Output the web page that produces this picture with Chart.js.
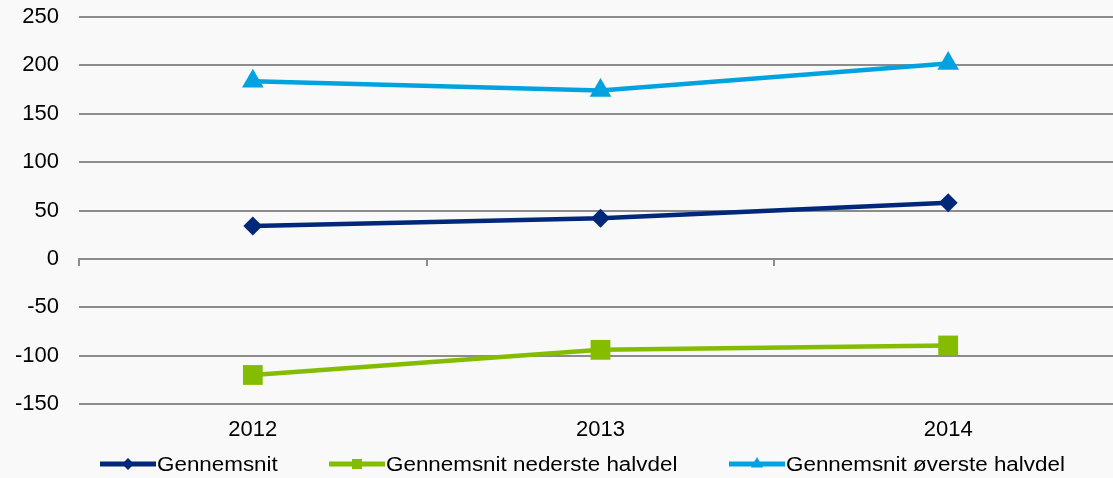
<!DOCTYPE html>
<html><head><meta charset="utf-8">
<script src="https://cdn.jsdelivr.net/npm/chart.js@4.4.1/dist/chart.umd.min.js"></script>
<style>
html,body{margin:0;padding:0;background:#f9f9f9;overflow:hidden;}
#wrap{width:1113px;height:478px;overflow:hidden;position:relative;}
canvas{display:block;}
</style></head>
<body><div id="wrap"><canvas id="c" width="1125" height="478" style="width:1125px;height:478px;"></canvas></div>
<script>
const categories = ['2012', '2013', '2014'];
const seriesNames = ['Gennemsnit', 'Gennemsnit nederste halvdel', 'Gennemsnit øverste halvdel'];
const gennemsnit = [34, 42, 58];
const nederste = [-120, -94, -89.5];
const oeverste = [183.5, 174, 202];
const yMin = -150, yMax = 250, yStep = 50;

const colors = ['#00287a', '#84bd00', '#00a3e0'];
const FONT = '"Liberation Sans", Arial, sans-serif';
const GRID = '#8c8c8c';

const legendMarkers = [
  {style: 'diamond', r: 6},
  {style: 'square', r: 5},
  {style: 'triangle', r: 7}
];

function drawMarker(ctx, style, x, y, r) {
  ctx.beginPath();
  if (style === 'diamond') {
    ctx.moveTo(x - r, y); ctx.lineTo(x, y - r); ctx.lineTo(x + r, y); ctx.lineTo(x, y + r);
  } else if (style === 'square') {
    ctx.rect(x - r, y - r, 2 * r, 2 * r);
  } else {
    ctx.moveTo(x, y - r); ctx.lineTo(x + r * 0.866, y + r * 0.5); ctx.lineTo(x - r * 0.866, y + r * 0.5);
  }
  ctx.closePath();
  ctx.fill();
}

const legendPlugin = {
  id: 'customLegend',
  afterDraw(chart) {
    const ctx = chart.ctx;
    const starts = [100, 329, 729];
    const y = 464;
    chart.data.datasets.forEach((ds, i) => {
      const x0 = starts[i];
      ctx.save();
      ctx.strokeStyle = ds.borderColor;
      ctx.fillStyle = ds.borderColor;
      ctx.lineWidth = 5;
      ctx.beginPath(); ctx.moveTo(x0, y); ctx.lineTo(x0 + 56, y); ctx.stroke();
      drawMarker(ctx, legendMarkers[i].style, x0 + 28, y, legendMarkers[i].r);
      ctx.fillStyle = '#000';
      ctx.font = '20px ' + FONT;
      ctx.textBaseline = 'middle';
      ctx.textAlign = 'left';
      ctx.translate(x0 + 57, y + 1);
      ctx.scale(1.12, 1);
      ctx.fillText(ds.label, 0, 0);
      ctx.restore();
    });
  }
};

new Chart(document.getElementById('c'), {
  type: 'line',
  data: {
    labels: categories,
    datasets: [
      {label: seriesNames[0], data: gennemsnit, borderColor: colors[0], backgroundColor: colors[0],
       pointStyle: 'rectRot', pointRadius: 9.5, pointBorderWidth: 0, borderWidth: 4.5, tension: 0},
      {label: seriesNames[1], data: nederste, borderColor: colors[1], backgroundColor: colors[1],
       pointStyle: 'rect', pointRadius: 14, pointBorderWidth: 0, borderWidth: 4.5, tension: 0},
      {label: seriesNames[2], data: oeverste, borderColor: colors[2], backgroundColor: colors[2],
       pointStyle: 'triangle', pointRadius: 12.5, pointBorderWidth: 0, borderWidth: 4.5, tension: 0}
    ]
  },
  options: {
    responsive: false,
    animation: false,
    events: [],
    layout: {autoPadding: false, padding: {top: 17, right: 3, bottom: 0, left: 0}},
    plugins: {legend: {display: false}, tooltip: {enabled: false}},
    scales: {
      x: {
        type: 'category',
        position: 'bottom',
        offset: true,
        grid: {display: false, drawTicks: false},
        border: {display: false},
        ticks: {color: '#000', font: {family: FONT, size: 22, lineHeight: 2.4}, padding: 0, maxRotation: 0},
        afterFit(scale) { scale.height = 74; scale.paddingLeft = 0; scale.paddingRight = 0; }
      },
      x2: {
        type: 'category',
        labels: categories,
        position: {y: 0},
        offset: true,
        grid: {display: true, offset: true, drawOnChartArea: false, drawTicks: true, tickLength: 6,
               color: GRID, lineWidth: 2},
        border: {display: true, color: GRID, width: 2},
        ticks: {display: false, padding: 0},
        afterFit(scale) { scale.paddingLeft = 0; scale.paddingRight = 0; }
      },
      y: {
        min: yMin, max: yMax,
        ticks: {stepSize: yStep, color: '#000', font: {family: FONT, size: 22}, padding: 20},
        grid: {color: GRID, lineWidth: 2, drawTicks: false},
        border: {display: false},
        afterFit(scale) { scale.width = 79; scale.paddingTop = 0; scale.paddingBottom = 0; }
      }
    }
  },
  plugins: [legendPlugin]
});
</script>
</body></html>
